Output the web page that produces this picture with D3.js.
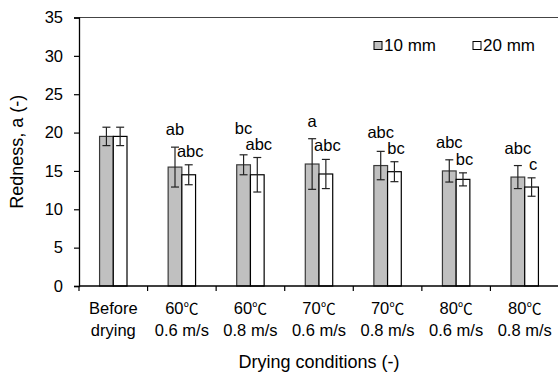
<!DOCTYPE html>
<html>
<head>
<meta charset="utf-8">
<script src="https://cdn.jsdelivr.net/npm/d3@7"></script>
<style>
  html, body { margin: 0; padding: 0; background: #fff; }
  svg text { font-family: "Liberation Sans", Arial, "Noto Sans CJK JP", sans-serif; fill: #000; }
  .cjk { font-family: "Noto Sans CJK JP", "Liberation Sans", sans-serif; }
</style>
</head>
<body>
<svg id="chart" width="558" height="372"></svg>
<script>
// Drying conditions (two-line category labels)
const conditionTemp  = ["Before", "60\u2103", "60\u2103", "70\u2103", "70\u2103", "80\u2103", "80\u2103"];
const conditionSpeed = ["drying", "0.6 m/s", "0.8 m/s", "0.6 m/s", "0.8 m/s", "0.6 m/s", "0.8 m/s"];

// Redness a* (mean and standard deviation) for the two slice thicknesses
const mean10 = [19.5, 15.5, 15.8, 15.9, 15.7, 15.0, 14.2];
const sd10   = [1.2, 2.6, 1.3, 3.3, 1.85, 1.45, 1.5];
const mean20 = [19.5, 14.5, 14.5, 14.6, 14.9, 13.9, 12.9];
const sd20   = [1.2, 1.3, 2.25, 1.9, 1.3, 0.85, 1.2];

// Significance letters
const letters10 = ["", "ab", "bc", "a", "abc", "abc", "abc"];
const letters20 = ["", "abc", "abc", "abc", "bc", "bc", "c"];

const seriesNames = ["10 mm", "20 mm"];
const yTicks = [0, 5, 10, 15, 20, 25, 30, 35];

const svg = d3.select("#chart");
const margin = { left: 79, right: -1, top: 17.5, bottom: 86 };
const W = 558, H = 372;
const x0 = margin.left, x1 = W - margin.right;
const yTop = margin.top, yBot = H - margin.bottom;

const idx = d3.range(conditionTemp.length);
const x = d3.scaleBand().domain(idx).range([x0, x1]).paddingInner(0).paddingOuter(0);
const groupW = x.bandwidth() * 0.4;
const xs = d3.scaleBand().domain([0, 1]).range([0, groupW]);
const y = d3.scaleLinear().domain([0, 35]).range([yBot, yTop]);

// plot frame (top edge)
svg.append("line").attr("x1", x0).attr("x2", x1).attr("y1", yTop).attr("y2", yTop)
  .attr("stroke", "#444").attr("stroke-width", 1.2);

const series = [
  { name: seriesNames[0], mean: mean10, sd: sd10, letters: letters10, fill: "#c0c0c0", stroke: "#3a3a3a" },
  { name: seriesNames[1], mean: mean20, sd: sd20, letters: letters20, fill: "#ffffff", stroke: "#000" }
];

// letter baselines: the 20 mm letter sits just above its error bar,
// the 10 mm letter above its own bar but never on top of the 20 mm letter
const labelY20 = idx.map(i => y(mean20[i] + sd20[i]) - 8);
const labelY10 = idx.map(i => Math.min(y(mean10[i] + sd10[i]) - 12, labelY20[i] - 16));
const labelY = [labelY10, labelY20];

series.forEach((s, si) => {
  const g = svg.append("g");
  const bx = i => x(i) + (x.bandwidth() - groupW) / 2 + xs(si);
  const bw = xs.bandwidth();
  g.selectAll("rect").data(idx).join("rect")
    .attr("x", i => bx(i)).attr("width", bw)
    .attr("y", i => y(s.mean[i])).attr("height", i => y(0) - y(s.mean[i]))
    .attr("fill", s.fill).attr("stroke", s.stroke).attr("stroke-width", 1.2);

  // error bars
  const cap = 4;
  const eb = g.selectAll("g.eb").data(idx).join("g").attr("class", "eb")
    .attr("stroke", "#222").attr("stroke-width", 1.2);
  eb.append("line")
    .attr("x1", i => bx(i) + bw / 2).attr("x2", i => bx(i) + bw / 2)
    .attr("y1", i => y(s.mean[i] + s.sd[i])).attr("y2", i => y(s.mean[i] - s.sd[i]));
  eb.append("line")
    .attr("x1", i => bx(i) + bw / 2 - cap).attr("x2", i => bx(i) + bw / 2 + cap)
    .attr("y1", i => y(s.mean[i] + s.sd[i])).attr("y2", i => y(s.mean[i] + s.sd[i]));
  eb.append("line")
    .attr("x1", i => bx(i) + bw / 2 - cap).attr("x2", i => bx(i) + bw / 2 + cap)
    .attr("y1", i => y(s.mean[i] - s.sd[i])).attr("y2", i => y(s.mean[i] - s.sd[i]));

  // significance letters
  g.selectAll("text.sig").data(idx.filter(i => s.letters[i])).join("text").attr("class", "sig")
    .attr("x", i => bx(i) + bw / 2 + (si ? 1.5 : 0))
    .attr("y", i => labelY[si][i])
    .attr("text-anchor", "middle").attr("font-size", 16.5)
    .text(i => s.letters[i]);
});

// y axis
const yAxis = svg.append("g").attr("transform", `translate(${x0},0)`)
  .call(d3.axisLeft(y).tickValues(yTicks).tickSize(5).tickPadding(11).tickFormat(d3.format("d")));
yAxis.select(".domain").attr("stroke", "#000").attr("stroke-width", 1.3);
yAxis.selectAll(".tick line").attr("stroke", "#000").attr("stroke-width", 1.2);
yAxis.selectAll(".tick text").attr("font-size", 16.5)
  .attr("font-family", "'Liberation Sans', Arial, sans-serif").attr("fill", "#000");

// x axis with ticks at category boundaries
const bounds = d3.range(conditionTemp.length + 1).map(i => x0 + i * x.step());
svg.append("line").attr("x1", x0).attr("x2", x1).attr("y1", yBot).attr("y2", yBot)
  .attr("stroke", "#000").attr("stroke-width", 1.3);
svg.append("g").selectAll("line").data(bounds).join("line")
  .attr("x1", d => d).attr("x2", d => d).attr("y1", yBot).attr("y2", yBot + 5)
  .attr("stroke", "#000").attr("stroke-width", 1.2);

// category labels; the degree-Celsius sign is set in the CJK face
const xl = svg.append("g").selectAll("text.cat").data(idx).join("text").attr("class", "cat")
  .attr("text-anchor", "middle").attr("font-size", 16.5)
  .attr("x", i => x(i) + x.bandwidth() / 2).attr("y", yBot + 28);
xl.each(function (i) {
  const t = d3.select(this);
  const label = conditionTemp[i];
  const k = label.indexOf("\u2103");
  if (k < 0) { t.append("tspan").text(label); return; }
  t.append("tspan").text(label.slice(0, k));
  t.append("tspan").attr("class", "cjk").attr("font-size", 15).text("\u2103");
});
svg.append("g").selectAll("text.spd").data(idx).join("text").attr("class", "spd")
  .attr("text-anchor", "middle").attr("font-size", 16.5)
  .attr("x", i => x(i) + x.bandwidth() / 2).attr("y", yBot + 50)
  .text(i => conditionSpeed[i]);

// axis titles
svg.append("text").attr("x", (x0 + x1) / 2).attr("y", 368).attr("text-anchor", "middle")
  .attr("font-size", 18).text("Drying conditions (-)");
svg.append("text").attr("transform", `translate(23,${(yTop + yBot) / 2}) rotate(-90)`)
  .attr("text-anchor", "middle").attr("font-size", 18).text("Redness, a (-)");

// legend
const leg = svg.append("g");
const legX = [374, 473];
series.forEach((s, si) => {
  leg.append("rect").attr("x", legX[si]).attr("y", 41.5).attr("width", 8).attr("height", 8)
    .attr("fill", s.fill).attr("stroke", "#000").attr("stroke-width", 1);
  leg.append("text").attr("x", legX[si] + 10).attr("y", 51).attr("font-size", 17).text(s.name);
});
</script>
</body>
</html>
